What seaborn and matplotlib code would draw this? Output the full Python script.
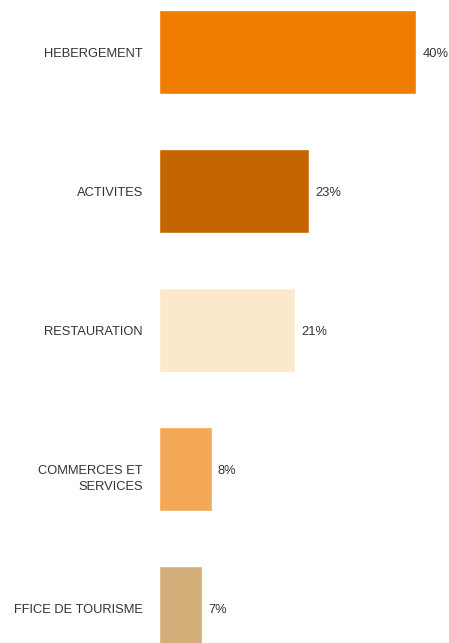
import matplotlib
matplotlib.use("Agg")
import matplotlib.pyplot as plt
import seaborn as sns
import pandas as pd

categories = ["HEBERGEMENT", "ACTIVITES", "RESTAURATION", "COMMERCES ET\nSERVICES", "FFICE DE TOURISME"]
values = [40, 23.3, 21.2, 8.2, 6.7]
value_labels = ["40%", "23%", "21%", "8%", "7%"]
colors = ["#F07C00", "#C46500", "#FCE9CC", "#F3A857", "#D2AE78"]

sns.set_theme(style="white")
plt.rcParams["font.family"] = ["Liberation Sans", "DejaVu Sans"]

df = pd.DataFrame({"cat": categories, "val": values})

fig = plt.figure(figsize=(4.49, 6.43), dpi=100)
ax = fig.add_axes([159 / 449, 0, 290 / 449, 1])
sns.barplot(data=df, x="val", y="cat", hue="cat", palette=colors, orient="h",
            width=0.604, legend=False, ax=ax, saturation=1)

ax.set_xlim(0, 290 / 6.425)
ax.set_ylim((643 - 52) / 139, -52 / 139)
for s in ax.spines.values():
    s.set_visible(False)
ax.set_xticks([])
ax.set_yticks([])
ax.set_xlabel("")
ax.set_ylabel("")

for i, lab in enumerate(categories):
    dy = -7.0 if "\n" in lab else -1.2
    ax.annotate(lab, xy=(0, i), xytext=(-11.6, dy), textcoords="offset points",
                ha="right", va="center", fontsize=9.3, color="#333333",
                linespacing=1.45, annotation_clip=False)

for i, c in enumerate(ax.containers):
    anns = ax.bar_label(c, labels=[value_labels[i]], padding=4.5, fontsize=9.3, color="#333333")
    for a in anns:
        a.xyann = (4.5, -1.2)

fig.savefig("out.png", dpi=100)
